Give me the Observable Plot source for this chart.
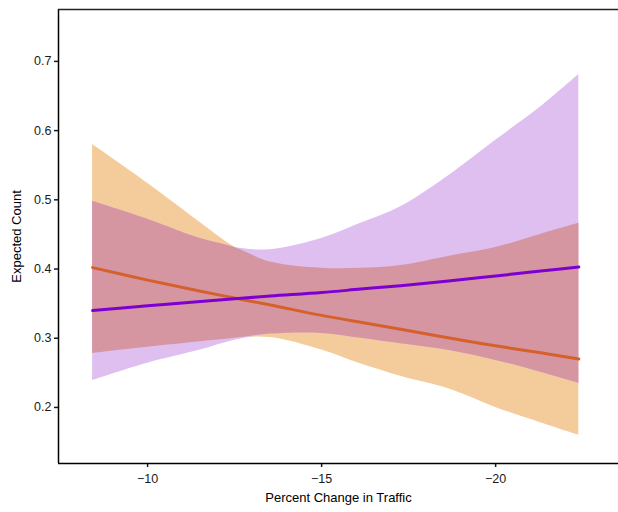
<!DOCTYPE html>
<html><head><meta charset="utf-8">
<script src="https://cdn.jsdelivr.net/npm/d3@7"></script>
<script src="https://cdn.jsdelivr.net/npm/@observablehq/plot@0.6"></script>
<style>body{margin:0;background:#fff}</style>
</head><body><div id="chart"></div>
<script>
const traffic   = [-8.42, -10, -11.52, -12.5, -13.53, -15, -16.12, -17.27, -18.71, -20, -21.29, -22.39];
const orangeFit = [0.402, 0.384, 0.368, 0.358, 0.348, 0.333, 0.323, 0.313, 0.300, 0.289, 0.279, 0.270];
const orangeLo  = [0.278, 0.287, 0.295, 0.300, 0.301, 0.283, 0.263, 0.245, 0.226, 0.200, 0.178, 0.160];
const orangeHi  = [0.580, 0.524, 0.467, 0.432, 0.410, 0.401, 0.401, 0.405, 0.419, 0.431, 0.450, 0.466];
const purpleFit = [0.340, 0.347, 0.353, 0.357, 0.361, 0.366, 0.371, 0.376, 0.383, 0.390, 0.397, 0.403];
const purpleLo  = [0.239, 0.264, 0.283, 0.297, 0.306, 0.307, 0.300, 0.292, 0.282, 0.268, 0.251, 0.235];
const purpleHi  = [0.498, 0.472, 0.444, 0.431, 0.428, 0.444, 0.466, 0.490, 0.537, 0.586, 0.634, 0.681];
const xTicks = [-10, -15, -20];
const yTicks = [0.2, 0.3, 0.4, 0.5, 0.6, 0.7];

const rows = traffic.map((x, i) => ({
  x, oFit: orangeFit[i], oLo: orangeLo[i], oHi: orangeHi[i],
  pFit: purpleFit[i], pLo: purpleLo[i], pHi: purpleHi[i]
}));
const curve = "catmull-rom";
const xMin = -7.44, xMax = -23.53, yMin = 0.119, yMax = 0.775;

const chart = Plot.plot({
  width: 618, height: 512,
  marginLeft: 58, marginRight: 0, marginTop: 9, marginBottom: 49,
  style: {fontFamily: "'Liberation Sans', Arial, sans-serif", fontSize: "12px", background: "#fff", color: "#1a1a1a"},
  x: {domain: [xMin, xMax]},
  y: {domain: [yMin, yMax]},
  marks: [
    Plot.areaY(rows, {x: "x", y1: "oLo", y2: "oHi", fill: "#F4CB9A", curve}),
    Plot.areaY(rows, {x: "x", y1: "pLo", y2: "pHi", fill: "#DFBFF0", curve}),
    Plot.areaY(rows, {x: "x", y1: d => Math.max(d.oLo, d.pLo), y2: d => Math.min(d.oHi, d.pHi), fill: "#D596A2", curve}),
    Plot.line(rows, {x: "x", y: "oFit", stroke: "#D5602B", strokeWidth: 3, curve}),
    Plot.line(rows, {x: "x", y: "pFit", stroke: "#7D00D0", strokeWidth: 3, curve}),
    Plot.axisX({ticks: xTicks, tickSize: 4, tickPadding: 7, label: null, color: "#1a1a1a", strokeWidth: 1.5, fontSize: 12.5}),
    Plot.axisY({ticks: yTicks, tickSize: 4, tickPadding: 3, tickFormat: ".1f", label: null, color: "#1a1a1a", strokeWidth: 1.5, fontSize: 12.5}),
    Plot.ruleX([xMin], {stroke: "#000", strokeWidth: 1.5}),
    Plot.ruleY([yMin], {stroke: "#000", strokeWidth: 1.5}),
    Plot.ruleY([yMax], {stroke: "#222", strokeWidth: 1.5}),
    Plot.text(["Percent Change in Traffic"], {frameAnchor: "bottom", dy: 38, fontSize: 13, fill: "#000"}),
    Plot.text(["Expected Count"], {frameAnchor: "left", dx: -42, rotate: -90, textAnchor: "middle", fontSize: 13, fill: "#000"})
  ]
});
document.getElementById("chart").append(chart);
</script>
</body></html>
